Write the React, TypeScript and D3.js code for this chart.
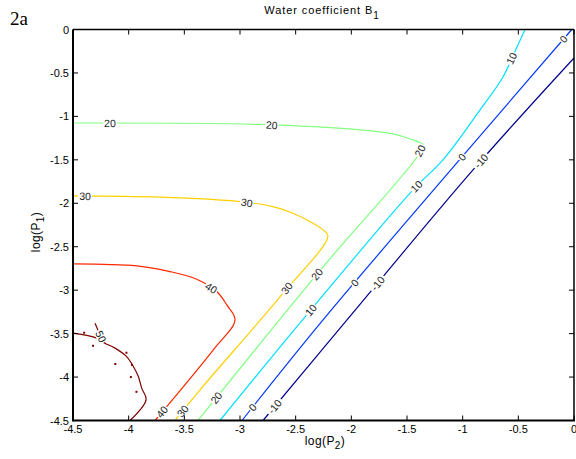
import * as d3 from 'd3';

// contour levels and their jet colours
const levels = [-10, 0, 10, 20, 30, 40, 50];
const levelColors = ['#00008f', '#0038ff', '#00dfff', '#80ff80', '#ffcf00', '#ff2800', '#800000'];

const xTicks = [-4.5, -4, -3.5, -3, -2.5, -2, -1.5, -1, -0.5, 0];
const yTicks = [0, -0.5, -1, -1.5, -2, -2.5, -3, -3.5, -4, -4.5];

// contour lines, [log(P2), log(P1)]
const lineM10 = [[-2.793, -4.5], [-2.039, -3.342], [-0.907, -1.616], [0, -0.328]];
const line0 = [[-2.982, -4.5], [-2.254, -3.342], [-0.952, -1.386], [-0.02, 0]];
const line10 = [[-3.18, -4.5], [-2.416, -3.307], [-1.446, -1.846], [-1.177, -1.501], [-0.844, -0.926], [-0.638, -0.546], [-0.512, -0.201], [-0.44, 0]];
const line20 = [[-4.5, -1.076], [-2.82, -1.093], [-1.922, -1.156], [-1.626, -1.202], [-1.473, -1.26], [-1.356, -1.329], [-1.41, -1.467], [-2.254, -2.732], [-3.377, -4.5]];
const line30 = [[-4.5, -1.915], [-3.719, -1.93], [-3.0, -1.981], [-2.704, -2.038], [-2.524, -2.114], [-2.344, -2.229], [-2.254, -2.306], [-2.21, -2.376], [-2.641, -3.077], [-3.359, -4.147], [-3.584, -4.5]];
const line40 = [[-4.5, -2.698], [-3.928, -2.721], [-3.629, -2.786], [-3.389, -2.874], [-3.209, -3.016], [-3.119, -3.169], [-3.045, -3.342], [-3.24, -3.687], [-3.763, -4.5]];
const line50 = [[-4.5, -3.495], [-4.287, -3.552], [-4.213, -3.61], [-4.123, -3.667], [-4.018, -3.764], [-3.958, -3.879], [-3.913, -3.994], [-3.883, -4.127], [-3.844, -4.262], [-3.988, -4.5]];
const line50b = [[-4.302, -3.38], [-4.242, -3.552], [-4.213, -3.61]];
// stray bits of the 50 level
const specks50 = [[-4.32, -3.64], [-4.12, -3.85], [-4.02, -3.72], [-3.97, -3.86], [-3.98, -4.0], [-3.93, -4.17], [-4.4, -3.49]];

const contourPieces = [
  { level: -10, pts: lineM10 },
  { level: 0, pts: line0 },
  { level: 10, pts: line10 },
  { level: 20, pts: line20 },
  { level: 30, pts: line30 },
  { level: 40, pts: line40 },
  { level: 50, pts: line50 },
  { level: 50, pts: line50b },
];

// where the inline labels sit, [level, log(P2), log(P1)]
const labelSpots = [
  [-10, -2.686, -4.343], [-10, -1.769, -2.916], [-10, -0.835, -1.513],
  [0, -2.883, -4.354], [0, -1.967, -2.916], [0, -0.95, -1.53], [0, -0.066, -0.14],
  [10, -2.344, -3.25], [10, -1.401, -1.823], [10, -0.53, -0.351],
  [20, -4.168, -1.118], [20, -2.715, -1.118], [20, -1.368, -1.406], [20, -2.281, -2.844], [20, -3.209, -4.243],
  [30, -4.392, -1.942], [30, -2.94, -1.999], [30, -2.58, -2.977], [30, -3.509, -4.397],
  [40, -3.269, -2.997], [40, -3.703, -4.397],
  [50, -4.264, -3.541],
];

const width = 576;
const height = 459;
const left = 73, right = 574, top = 29.5, bottom = 420.5;
const font = 'Arial, "Liberation Sans", Helvetica, sans-serif';

const x = d3.scaleLinear().domain([-4.5, 0]).range([left, right]);
const y = d3.scaleLinear().domain([-4.5, 0]).range([bottom, top]);

const lineGen = d3.line<number[]>()
  .x(d => x(d[0]))
  .y(d => y(d[1]))
  .curve(d3.curveCatmullRom.alpha(0.5));

function placeLabel(level: number, lx: number, ly: number) {
  const px = x(lx), py = y(ly);
  let best = { d: Infinity, x: px, y: py, a: 0 };
  contourPieces.filter(c => c.level === level).forEach(c => {
    for (let i = 0; i < c.pts.length - 1; i++) {
      const ax = x(c.pts[i][0]), ay = y(c.pts[i][1]);
      const bx = x(c.pts[i + 1][0]), by = y(c.pts[i + 1][1]);
      const dx = bx - ax, dy = by - ay;
      let t = ((px - ax) * dx + (py - ay) * dy) / (dx * dx + dy * dy);
      t = Math.max(0, Math.min(1, t));
      const qx = ax + t * dx, qy = ay + t * dy;
      const d = Math.hypot(px - qx, py - qy);
      if (d < best.d) {
        let a = (Math.atan2(dy, dx) * 180) / Math.PI;
        if (a > 90) a -= 180;
        if (a < -90) a += 180;
        best = { d, x: qx, y: qy, a };
      }
    }
  });
  return best;
}

export default function App() {
  const tick = 5;
  return (
    <svg width={width} height={height} style={{ position: 'absolute', left: 0, top: 0, background: '#fff' }}>
      <rect width={width} height={height} fill="#fff" />
      <text x={10} y={25} fontFamily='"Times New Roman", "Liberation Serif", serif' fontSize={19}>2a</text>
      <text x={322} y={14} textAnchor="middle" fontFamily={font} fontSize={11} letterSpacing={0.9}>
        Water coefficient B<tspan dy={5} fontSize={10}>1</tspan>
      </text>

      {/* contour lines */}
      {contourPieces.map((c, i) => (
        <path key={i} d={lineGen(c.pts) || ''} fill="none"
          stroke={levelColors[levels.indexOf(c.level)]} strokeWidth={1.2} />
      ))}
      {specks50.map((s, i) => (
        <rect key={i} x={x(s[0]) - 1} y={y(s[1]) - 1} width={2} height={2} fill={levelColors[6]} />
      ))}

      {/* inline labels */}
      {labelSpots.map((l, i) => {
        const p = placeLabel(l[0], l[1], l[2]);
        const txt = String(l[0]);
        const w = txt.length * 5.8 + 2;
        return (
          <g key={i} transform={`translate(${p.x},${p.y}) rotate(${p.a})`}>
            <rect x={-w / 2} y={-5} width={w} height={10} fill="#fff" />
            <text x={0} y={3.8} textAnchor="middle" fontFamily={font} fontSize={10.5} fill="#222">{txt}</text>
          </g>
        );
      })}

      {/* frame */}
      <line x1={left} x2={right} y1={top} y2={top} stroke="#000" strokeWidth={1.5} />
      <line x1={right} x2={right} y1={top} y2={bottom} stroke="#000" strokeWidth={1.5} />
      <line x1={left} x2={right + 1} y1={bottom} y2={bottom} stroke="#000" strokeWidth={2} />
      <line x1={left} x2={left} y1={top} y2={bottom + 1} stroke="#000" strokeWidth={2} />

      {xTicks.map(v => (
        <g key={'x' + v}>
          <line x1={x(v)} x2={x(v)} y1={bottom} y2={bottom - tick} stroke="#000" />
          <line x1={x(v)} x2={x(v)} y1={top} y2={top + tick} stroke="#000" />
          <text x={x(v)} y={433} textAnchor="middle" fontFamily={font} fontSize={11}>{String(v)}</text>
        </g>
      ))}
      {yTicks.map(v => (
        <g key={'y' + v}>
          <line x1={left} x2={left + tick} y1={y(v)} y2={y(v)} stroke="#000" />
          <line x1={right} x2={right - tick} y1={y(v)} y2={y(v)} stroke="#000" />
          <text x={69} y={y(v) + 4} textAnchor="end" fontFamily={font} fontSize={11}>{String(v)}</text>
        </g>
      ))}

      <text x={325} y={445} textAnchor="middle" fontFamily={font} fontSize={12} letterSpacing={0.4}>
        log(P<tspan dy={4} fontSize={10}>2</tspan><tspan dy={-4}>)</tspan>
      </text>
      <text transform="translate(40,232) rotate(-90)" textAnchor="middle" fontFamily={font} fontSize={12} letterSpacing={0.4}>
        log(P<tspan dy={4} fontSize={10}>1</tspan><tspan dy={-4}>)</tspan>
      </text>
    </svg>
  );
}
